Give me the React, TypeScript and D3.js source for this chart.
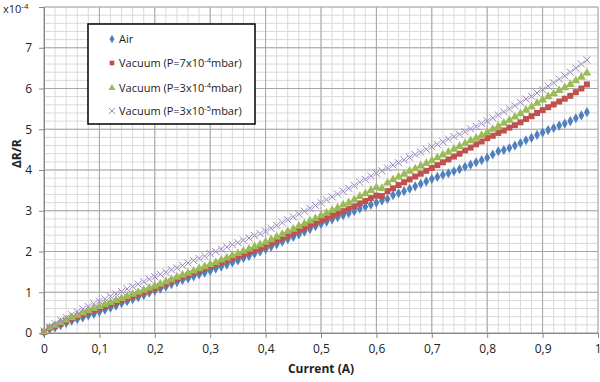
import React, { useRef, useEffect } from "react";
import * as d3 from "d3";

const fontFamily = "'Open Sans', 'Liberation Sans', sans-serif";

// current (A)
const currents = [
  0, 0.01, 0.02, 0.03, 0.04, 0.05, 0.06, 0.07, 0.08, 0.09,
  0.1, 0.11, 0.12, 0.13, 0.14, 0.15, 0.16, 0.17, 0.18, 0.19,
  0.2, 0.21, 0.22, 0.23, 0.24, 0.25, 0.26, 0.27, 0.28, 0.29,
  0.3, 0.31, 0.32, 0.33, 0.34, 0.35, 0.36, 0.37, 0.38, 0.39,
  0.4, 0.41, 0.42, 0.43, 0.44, 0.45, 0.46, 0.47, 0.48, 0.49,
  0.5, 0.51, 0.52, 0.53, 0.54, 0.55, 0.56, 0.57, 0.58, 0.59,
  0.6, 0.61, 0.62, 0.63, 0.64, 0.65, 0.66, 0.67, 0.68, 0.69,
  0.7, 0.71, 0.72, 0.73, 0.74, 0.75, 0.76, 0.77, 0.78, 0.79,
  0.8, 0.81, 0.82, 0.83, 0.84, 0.85, 0.86, 0.87, 0.88, 0.89,
  0.9, 0.91, 0.92, 0.93, 0.94, 0.95, 0.96, 0.97, 0.98
];

// ΔR/R (x10^-4)
const air = [
  0.02, 0.10, 0.14, 0.19, 0.25, 0.30, 0.34, 0.38, 0.43, 0.47,
  0.52, 0.57, 0.62, 0.67, 0.73, 0.78, 0.83, 0.88, 0.93, 0.99,
  1.04, 1.09, 1.14, 1.20, 1.25, 1.30, 1.34, 1.39, 1.44, 1.48,
  1.53, 1.58, 1.63, 1.68, 1.73, 1.78, 1.84, 1.89, 1.95, 2.00,
  2.06, 2.12, 2.18, 2.24, 2.30, 2.36, 2.42, 2.49, 2.55, 2.62,
  2.68, 2.73, 2.79, 2.84, 2.89, 2.94, 2.99, 3.05, 3.10, 3.15,
  3.20, 3.25, 3.29, 3.38, 3.43, 3.48, 3.54, 3.60, 3.66, 3.72,
  3.78, 3.83, 3.88, 3.92, 3.97, 4.02, 4.08, 4.13, 4.19, 4.24,
  4.30, 4.38, 4.46, 4.49, 4.54, 4.60, 4.66, 4.73, 4.79, 4.86,
  4.92, 4.98, 5.03, 5.09, 5.14, 5.20, 5.27, 5.34, 5.42
];

const vac7e4 = [
  0.03, 0.12, 0.17, 0.23, 0.29, 0.35, 0.40, 0.45, 0.50, 0.55,
  0.60, 0.65, 0.70, 0.75, 0.80, 0.85, 0.90, 0.95, 1.00, 1.05,
  1.10, 1.16, 1.21, 1.27, 1.32, 1.37, 1.42, 1.47, 1.52, 1.57,
  1.62, 1.67, 1.73, 1.78, 1.83, 1.88, 1.93, 1.98, 2.03, 2.08,
  2.13, 2.20, 2.26, 2.32, 2.39, 2.45, 2.51, 2.57, 2.64, 2.70,
  2.76, 2.82, 2.88, 2.93, 2.99, 3.05, 3.11, 3.18, 3.24, 3.31,
  3.37, 3.36, 3.48, 3.55, 3.63, 3.70, 3.77, 3.84, 3.91, 3.98,
  4.05, 4.12, 4.19, 4.26, 4.33, 4.40, 4.48, 4.55, 4.63, 4.70,
  4.78, 4.84, 4.91, 4.97, 5.04, 5.10, 5.17, 5.25, 5.32, 5.40,
  5.47, 5.54, 5.61, 5.68, 5.75, 5.82, 5.91, 6.00, 6.10
];

const vac3e4 = [
  0.03, 0.13, 0.19, 0.26, 0.32, 0.38, 0.44, 0.49, 0.55, 0.60,
  0.65, 0.70, 0.75, 0.80, 0.85, 0.90, 0.95, 1.00, 1.05, 1.10,
  1.15, 1.20, 1.26, 1.31, 1.37, 1.42, 1.47, 1.52, 1.58, 1.63,
  1.68, 1.73, 1.79, 1.84, 1.90, 1.95, 2.01, 2.06, 2.12, 2.17,
  2.23, 2.29, 2.36, 2.42, 2.49, 2.55, 2.62, 2.68, 2.75, 2.81,
  2.88, 2.94, 3.01, 3.07, 3.14, 3.20, 3.27, 3.35, 3.42, 3.50,
  3.57, 3.55, 3.68, 3.76, 3.83, 3.90, 3.97, 4.03, 4.10, 4.16,
  4.23, 4.30, 4.37, 4.44, 4.51, 4.58, 4.65, 4.72, 4.78, 4.85,
  4.92, 5.00, 5.07, 5.15, 5.22, 5.30, 5.38, 5.47, 5.55, 5.64,
  5.72, 5.80, 5.87, 5.95, 6.02, 6.10, 6.19, 6.28, 6.38
];

const vac3e5 = [
  0.05, 0.15, 0.23, 0.31, 0.38, 0.45, 0.52, 0.59, 0.65, 0.72,
  0.78, 0.84, 0.90, 0.96, 1.02, 1.08, 1.14, 1.20, 1.26, 1.32,
  1.38, 1.44, 1.49, 1.55, 1.60, 1.66, 1.72, 1.78, 1.83, 1.89,
  1.95, 2.00, 2.06, 2.11, 2.17, 2.22, 2.28, 2.33, 2.39, 2.44,
  2.50, 2.57, 2.64, 2.71, 2.78, 2.85, 2.92, 2.99, 3.06, 3.13,
  3.20, 3.27, 3.34, 3.41, 3.48, 3.55, 3.62, 3.70, 3.77, 3.85,
  3.92, 3.98, 4.05, 4.12, 4.18, 4.25, 4.31, 4.38, 4.44, 4.51,
  4.57, 4.63, 4.69, 4.76, 4.82, 4.88, 4.94, 5.01, 5.07, 5.14,
  5.20, 5.28, 5.35, 5.43, 5.50, 5.58, 5.66, 5.74, 5.81, 5.89,
  5.97, 6.06, 6.14, 6.23, 6.31, 6.40, 6.50, 6.60, 6.70
];

const xTicks = [0, 0.1, 0.2, 0.3, 0.4, 0.5, 0.6, 0.7, 0.8, 0.9, 1];
const yTicks = [0, 1, 2, 3, 4, 5, 6, 7];

const seriesNames = ["Air", "Vacuum (P=7x10", "Vacuum (P=3x10", "Vacuum (P=3x10"];
const seriesExp = ["", "-4", "-4", "-5"];
const seriesColors = ["#4F81BD", "#C0504D", "#9BBB59", "#8064A2"];
const seriesSymbols = [d3.symbolDiamond, d3.symbolSquare, d3.symbolTriangle, d3.symbolX];

export default function App() {
  const ref = useRef<SVGSVGElement>(null);

  useEffect(() => {
    const width = 600;
    const height = 382;
    const margin = { top: 7, right: 2, bottom: 49, left: 44 };

    const svg = d3.select(ref.current);
    svg.selectAll("*").remove();
    svg.style("font-family", fontFamily).style("background", "#fff");

    const x = d3.scaleLinear().domain([0, 1]).range([margin.left, width - margin.right]);
    const y = d3.scaleLinear().domain([0, 8]).range([height - margin.bottom, margin.top]);

    // grid
    const grid = svg.append("g");
    grid.selectAll("line.vminor")
      .data(d3.range(0, 51).map(i => i / 50))
      .join("line")
      .attr("x1", d => x(d)).attr("x2", d => x(d))
      .attr("y1", y(0)).attr("y2", y(8))
      .attr("stroke", "#d9d9d9").attr("stroke-width", 1);
    grid.selectAll("line.hminor")
      .data(d3.range(0, 41).map(i => i / 5))
      .join("line")
      .attr("x1", x(0)).attr("x2", x(1))
      .attr("y1", d => y(d)).attr("y2", d => y(d))
      .attr("stroke", "#d9d9d9").attr("stroke-width", 1);
    grid.selectAll("line.vmajor")
      .data(xTicks)
      .join("line")
      .attr("x1", d => x(d)).attr("x2", d => x(d))
      .attr("y1", y(0)).attr("y2", y(8))
      .attr("stroke", "#a6a6a6").attr("stroke-width", 1);
    grid.selectAll("line.hmajor")
      .data(yTicks.concat([8]))
      .join("line")
      .attr("x1", x(0)).attr("x2", x(1))
      .attr("y1", d => y(d)).attr("y2", d => y(d))
      .attr("stroke", "#a6a6a6").attr("stroke-width", 1);

    // axes
    const xAxis = svg.append("g")
      .attr("transform", `translate(0,${y(0)})`)
      .call(d3.axisBottom(x).tickValues(xTicks).tickSize(5).tickPadding(6)
        .tickFormat(d => String(d).replace(".", ",")));
    const yAxis = svg.append("g")
      .attr("transform", `translate(${x(0)},0)`)
      .call(d3.axisLeft(y).tickValues(yTicks).tickSize(5).tickPadding(7));
    [xAxis, yAxis].forEach(g => {
      g.select(".domain").attr("stroke", "#888");
      g.selectAll(".tick line").attr("stroke", "#888");
      g.selectAll("text").attr("font-size", 12).attr("font-family", fontFamily).attr("fill", "#222");
    });
    xAxis.selectAll<SVGTextElement, number>("text")
      .filter(d => d === 1)
      .attr("text-anchor", "end").attr("dx", 3);

    // multiplier label
    const mult = svg.append("text")
      .attr("x", 3).attr("y", 13)
      .attr("font-size", 11).attr("fill", "#222");
    mult.append("tspan").text("x10");
    mult.append("tspan").attr("dy", -4).attr("font-size", 8).text("-4");

    // axis titles
    svg.append("text")
      .attr("transform", `translate(21,${y(4.4)}) rotate(-90)`)
      .attr("text-anchor", "middle")
      .attr("font-size", 12).attr("font-weight", "bold").attr("fill", "#222")
      .text("ΔR/R");
    svg.append("text")
      .attr("x", x(0.5)).attr("y", 373)
      .attr("text-anchor", "middle")
      .attr("font-size", 12).attr("font-weight", "bold").attr("fill", "#222")
      .text("Current (A)");

    // series
    const seriesData = [air, vac7e4, vac3e4, vac3e5];
    const sizes = [30, 36, 34, 34];
    seriesData.forEach((vals, si) => {
      const g = svg.append("g");
      const sym = d3.symbol().type(seriesSymbols[si]).size(sizes[si]);
      g.selectAll("path")
        .data(currents.map((c, i) => [c, vals[i]]))
        .join("path")
        .attr("transform", d => `translate(${x(d[0])},${y(d[1])})`)
        .attr("d", sym())
        .attr("fill", si === 3 ? "none" : seriesColors[si])
        .attr("stroke", si === 3 ? "#9A85BE" : "none")
        .attr("stroke-width", 1);
    });

    // legend
    const legend = svg.append("g");
    legend.append("rect")
      .attr("x", 88).attr("y", 24).attr("width", 167).attr("height", 100)
      .attr("fill", "#fff").attr("stroke", "#000").attr("stroke-width", 1.5);
    const rowY = [39, 63, 88, 111];
    seriesNames.forEach((name, i) => {
      const sym = d3.symbol().type(seriesSymbols[i]).size(i === 3 ? 26 : 22);
      legend.append("path")
        .attr("transform", `translate(112,${rowY[i]})`)
        .attr("d", sym())
        .attr("fill", i === 3 ? "none" : seriesColors[i])
        .attr("stroke", i === 3 ? "#9A85BE" : "none");
      const t = legend.append("text")
        .attr("x", 119).attr("y", rowY[i] + 4)
        .attr("font-size", 11).attr("fill", "#222");
      t.append("tspan").text(name);
      if (seriesExp[i]) {
        t.append("tspan").attr("dy", -4).attr("font-size", 7.5).text(seriesExp[i]);
        t.append("tspan").attr("dy", 4).text("mbar)");
      }
    });
  }, []);

  return (
    <svg
      ref={ref}
      width={600}
      height={382}
      style={{ position: "absolute", left: 0, top: 0, display: "block" }}
    />
  );
}
